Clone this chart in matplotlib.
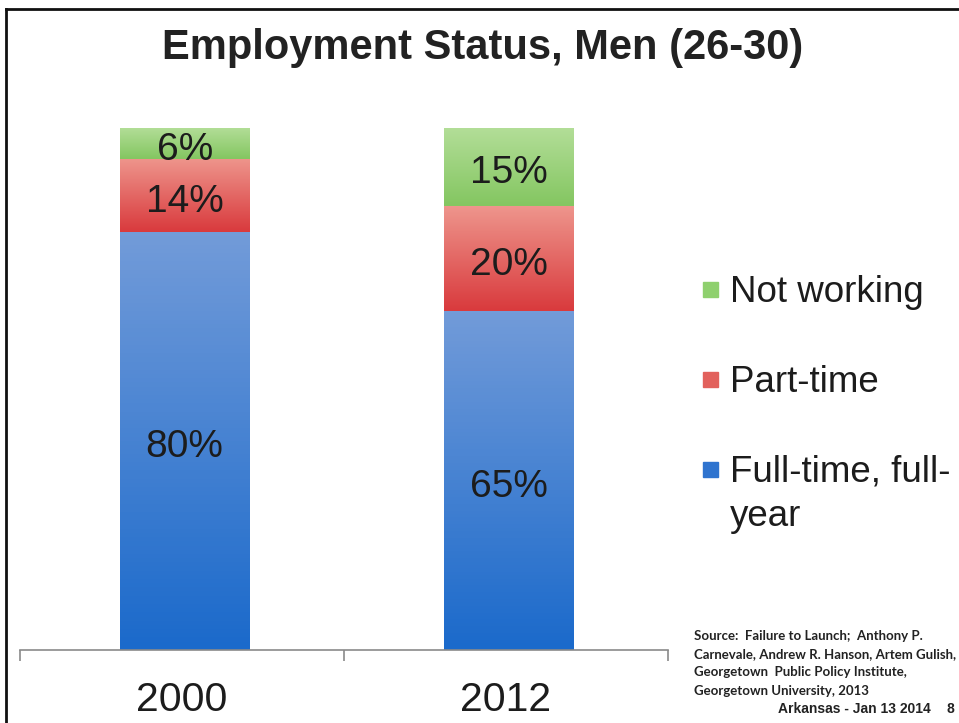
import numpy as np
import matplotlib.pyplot as plt
from matplotlib.colors import LinearSegmentedColormap
from matplotlib.patches import Rectangle
from matplotlib.lines import Line2D

years = ['2000', '2012']
full_time = [80, 65]
part_time = [14, 20]
not_working = [6, 15]

series = [full_time, part_time, not_working]
names = ['Full-time, full-\nyear', 'Part-time', 'Not working']
# (top colour, bottom colour) for the vertical gradient of each segment
grads = [('#729bd9', '#1b6acb'), ('#ee958c', '#d93a3d'), ('#b3de98', '#84c661')]
key_cols = ['#2f74cf', '#e2615c', '#8fd06e']

plt.rcParams['font.family'] = ['Liberation Sans', 'DejaVu Sans']
txt = '#1c1c1c'

fig = plt.figure(figsize=(9.59, 7.23), dpi=100)
ax = fig.add_axes([0.0209, 0.1010, 0.6757, 0.7220])

x = np.arange(len(years))
bottom = np.zeros(len(years))
for vals, (ctop, cbot) in zip(series, grads):
    bars = ax.bar(x + 0.008, vals, 0.4, bottom=bottom, color=ctop, linewidth=0)
    cmap = LinearSegmentedColormap.from_list('g', [cbot, ctop])
    for b, v in zip(bars, vals):
        x0, y0 = b.get_x(), b.get_y()
        w, h = b.get_width(), b.get_height()
        im = ax.imshow(np.linspace(0, 1, 100).reshape(-1, 1), cmap=cmap,
                       extent=[x0, x0 + w, y0, y0 + h], origin='lower',
                       aspect='auto', zorder=2)
        im.set_clip_path(b)
        ax.annotate(f'{v}%', (x0 + w / 2, y0 + h / 2), xytext=(0, -4.5),
                    textcoords='offset points', ha='center', va='center',
                    fontsize=28, color=txt, zorder=3)
    bottom += np.array(vals)

ax.set_xlim(-0.5, 1.5)
ax.set_ylim(0, 100)
for s in ['top', 'right', 'left']:
    ax.spines[s].set_visible(False)
ax.spines['bottom'].set_color('#8a8a8a')
ax.spines['bottom'].set_linewidth(1.2)
ax.set_yticks([])
ax.set_xticks(x)
ax.set_xticklabels(years, fontsize=29.5, color=txt)
ax.tick_params(axis='x', which='major', length=0, pad=22)
ax.set_xticks([-0.5, 0.5, 1.5], minor=True)
ax.tick_params(axis='x', which='minor', length=8, width=1.2, color='#8a8a8a',
               direction='out')

fig.text(0.503, 0.933, 'Employment Status, Men (26-30)', ha='center',
         va='center', fontsize=30, fontweight='bold', color='#222222')

# legend drawn by hand (top entry first)
leg_y = [289, 379, 469]
for i, yy in enumerate(leg_y):
    k = 2 - i
    fig.patches.append(Rectangle((703 / 959, 1 - (yy + 8) / 723), 15 / 959, 15 / 723,
                                 transform=fig.transFigure, color=key_cols[k]))
    fig.text(730 / 959, 1 - (yy - 14) / 723, names[k], ha='left', va='top',
             fontsize=26.5, color=txt, linespacing=1.33)

src = ('Source:  Failure to Launch;  Anthony P.\n'
       'Carnevale, Andrew R. Hanson, Artem Gulish,\n'
       'Georgetown  Public Policy Institute,\n'
       'Georgetown University, 2013')
fig.text(694 / 959, 1 - 630 / 723, src, ha='left', va='top', fontsize=9.5,
         fontweight='bold', color='#222222', family=['Lato', 'DejaVu Sans'],
         linespacing=1.62)
fig.text(778 / 959, 1 - 709 / 723, 'Arkansas - Jan 13 2014', ha='left',
         va='center', fontsize=10, fontweight='bold', color='#222222')
fig.text(950 / 959, 1 - 709 / 723, '8', ha='center', va='center', fontsize=10,
         fontweight='bold', color='#222222')

# slide frame
fig.add_artist(Line2D([6 / 959, 1], [1 - 9 / 723, 1 - 9 / 723], color='#111111',
                      lw=2, transform=fig.transFigure))
fig.add_artist(Line2D([6 / 959, 6 / 959], [0, 1 - 9 / 723], color='#111111',
                      lw=2, transform=fig.transFigure))

fig.savefig('out.png', dpi=100)
